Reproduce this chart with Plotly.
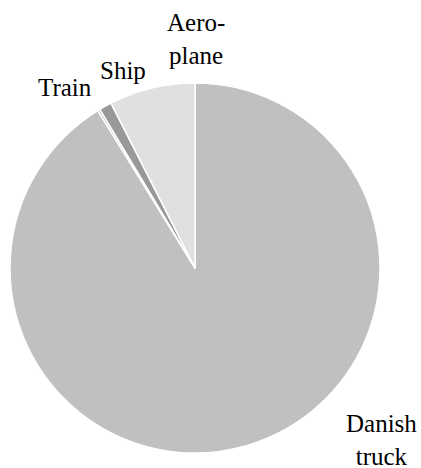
import plotly.graph_objects as go

labels = ["Danish truck", "Train", "Ship", "Aeroplane"]
values = [91.2, 0.2, 1.1, 7.5]
colors = ["#c0c0c0", "#b0b0b0", "#999999", "#e0e0e0"]
label_text = ["Danish<br>truck", "Train", "Ship", "Aero-<br>plane"]
label_x = [0.905, 0.154, 0.291, 0.466]
label_y = [0.060, 0.814, 0.850, 0.916]

W, H = 421, 468

fig = go.Figure(go.Pie(
    labels=labels, values=values, sort=False, direction="clockwise", rotation=0,
    marker=dict(colors=colors, line=dict(color="white", width=1.5)),
    textinfo="none", hoverinfo="label+percent",
    domain=dict(x=[10 / W, 380 / W], y=[1 - 453 / H, 1 - 83 / H]),
))

for t, x, y in zip(label_text, label_x, label_y):
    fig.add_annotation(text=t, x=x, y=y, xref="paper", yref="paper",
                       showarrow=False, xanchor="center", yanchor="middle")

fig.update_layout(
    width=W, height=H, showlegend=False,
    margin=dict(l=0, r=0, t=0, b=0),
    paper_bgcolor="white",
    font=dict(family="Liberation Serif, Times New Roman, serif", size=25, color="black"),
)
# drop the default 8px body margin so the figure fills the window exactly
fig.write_html("out.html", config={"displayModeBar": False},
               post_script="document.body.style.margin='0';")
